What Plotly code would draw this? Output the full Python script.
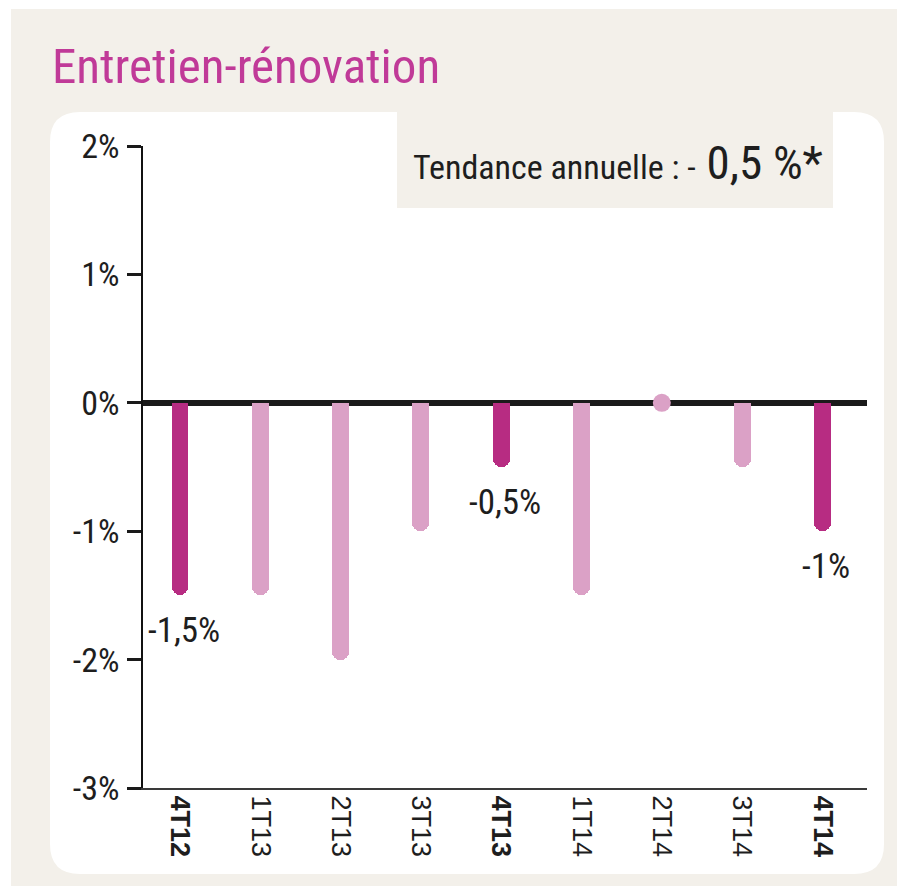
import plotly.graph_objects as go

# ---- data ----
CATEGORIES = ["4T12", "1T13", "2T13", "3T13", "4T13", "1T14", "2T14", "3T14", "4T14"]
VALUES = [-1.5, -1.5, -2.0, -1.0, -0.5, -1.5, 0.0, -0.5, -1.0]
Y_TICK_VALUES = [2, 1, 0, -1, -2, -3]
Y_TICK_LABELS = ["2%", "1%", "0%", "-1%", "-2%", "-3%"]
TITLE = "Entretien-rénovation"
TREND_LABEL = "Tendance annuelle : -"
TREND_VALUE = " 0,5 %*"

# ---- style ----
DARK = "#B72C82"
LIGHT = "#DBA1C6"
BEIGE = "#F3F0EA"
NARROW = "Liberation Sans Narrow, Arial Narrow, Roboto Condensed, sans-serif"
PAGE_OFFSET = 8          # default body margin of the html page
W, H = 905 - PAGE_OFFSET, 886 - PAGE_OFFSET
L, R, T, B = 143 - PAGE_OFFSET, 38, 146 - PAGE_OFFSET, 98
PW, PH = W - L - R, H - T - B
AX_LEFT, AX_BOTTOM = 143, 788   # page-pixel position of the axes corner


def px(x):
    return (x - AX_LEFT) / PW


def py(y):
    return (AX_BOTTOM - y) / PH


highlight = [c.startswith("4T") for c in CATEGORIES]
colors = [DARK if h else LIGHT for h in highlight]

fig = go.Figure()
fig.add_trace(go.Bar(
    x=CATEGORIES, y=VALUES, width=0.21,
    marker=dict(color=colors, line=dict(width=0), cornerradius=8),
    hoverinfo="skip", showlegend=False,
))
# zero-valued quarters are drawn as a dot on the zero line
zx = [c for c, v in zip(CATEGORIES, VALUES) if v == 0]
zc = [col for col, v in zip(colors, VALUES) if v == 0]
fig.add_trace(go.Scatter(
    x=zx, y=[0] * len(zx), mode="markers",
    marker=dict(size=18, color=zc, line=dict(width=0)),
    hoverinfo="skip", showlegend=False, cliponaxis=False,
))

shapes = []
# beige background
shapes.append(dict(type="rect", xref="paper", yref="paper",
                   x0=px(11), x1=px(906), y0=py(887), y1=py(9),
                   fillcolor=BEIGE, line=dict(width=0), layer="below"))
# white rounded panel
x0, x1, yt, yb = px(50), px(884), py(112), py(874)
rx, ry = 30 / PW, 30 / PH
path = (f"M {x0+rx},{yt} L {x1-rx},{yt} Q {x1},{yt} {x1},{yt-ry} "
        f"L {x1},{yb+ry} Q {x1},{yb} {x1-rx},{yb} "
        f"L {x0+rx},{yb} Q {x0},{yb} {x0},{yb+ry} "
        f"L {x0},{yt-ry} Q {x0},{yt} {x0+rx},{yt} Z")
shapes.append(dict(type="path", xref="paper", yref="paper", path=path,
                   fillcolor="#FFFFFF", line=dict(width=0), layer="below"))
# trend box
shapes.append(dict(type="rect", xref="paper", yref="paper",
                   x0=px(397), x1=px(833), y0=py(208), y1=py(100),
                   fillcolor=BEIGE, line=dict(width=0), layer="below"))

annotations = []
annotations.append(dict(xref="paper", yref="paper", x=px(50), y=py(67),
                        xanchor="left", yanchor="middle", showarrow=False,
                        text=TITLE, font=dict(family=NARROW, size=49, color="#C03A98")))
annotations.append(dict(xref="paper", yref="paper", x=px(411), y=py(162),
                        xanchor="left", yanchor="middle", showarrow=False,
                        text=f"{TREND_LABEL}<span style='font-size:47px'>{TREND_VALUE}</span>",
                        font=dict(family=NARROW, size=34, color="#1E1E1E")))
for c, v, h in zip(CATEGORIES, VALUES, highlight):
    if h:
        lab = f"{v:g}".replace(".", ",") + "%"
        annotations.append(dict(x=c, y=v, xref="x", yref="y", yanchor="top",
                                yshift=-13, xshift=4, showarrow=False, text=lab,
                                font=dict(family=NARROW, size=35, color="#1E1E1E")))

ticktext = [f"<b>{c}</b>" if h else c for c, h in zip(CATEGORIES, highlight)]

fig.update_layout(
    width=W, height=H,
    margin=dict(l=L, r=R, t=T, b=B, pad=0),
    paper_bgcolor="#FFFFFF", plot_bgcolor="rgba(0,0,0,0)",
    shapes=shapes, annotations=annotations,
    bargap=0,
    xaxis=dict(type="category", range=[-0.461, 8.555], showgrid=False,
               showline=True, linecolor="#3A3A3A", linewidth=2, ticks="",
               tickmode="array", tickvals=CATEGORIES, ticktext=ticktext,
               tickangle=90, tickfont=dict(family="Liberation Sans, Arial, sans-serif",
                                           size=27, color="#1E1E1E"),
               fixedrange=True),
    yaxis=dict(range=[-3, 2], showgrid=False, showline=True, linecolor="#111111",
               linewidth=1.5, ticks="outside", ticklen=14, tickwidth=3,
               tickcolor="#1A1A1A", tickmode="array", tickvals=Y_TICK_VALUES,
               ticktext=Y_TICK_LABELS, ticklabelstandoff=1,
               tickfont=dict(family=NARROW, size=34, color="#1E1E1E"),
               zeroline=True, zerolinecolor="#1A1A1A", zerolinewidth=6,
               fixedrange=True),
)

fig.write_html("out.html")
